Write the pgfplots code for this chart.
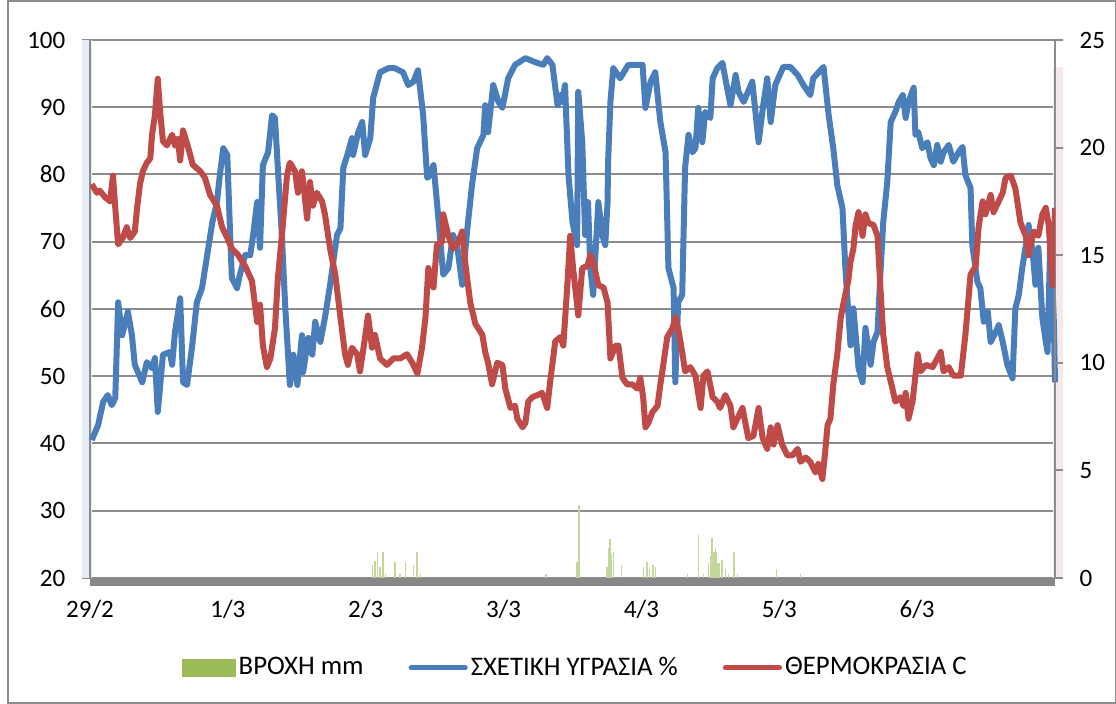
\documentclass[border=0pt]{standalone}
\usepackage{fontspec}
\setmainfont{Carlito}
\usepackage{pgfplots}
\pgfplotsset{compat=1.18}
\definecolor{hum}{HTML}{4A7EBB}
\definecolor{tmp}{HTML}{BE4B48}
\definecolor{rain}{HTML}{9BBB59}
\definecolor{gridg}{HTML}{8C8C8C}
\definecolor{axg}{HTML}{878787}
\begin{document}
\fontsize{12.5}{15}\selectfont
\begin{tikzpicture}
\path[use as bounding box] (0,0) rectangle (558pt,352pt);
\draw[gridg, line width=0.6pt] (4pt,0.5pt) rectangle (557.7pt,351.5pt);
\begin{axis}[
  at={(45pt,63pt)}, anchor=south west,
  scale only axis, width=482.5pt, height=269pt,
  xmin=0, xmax=168, ymin=20, ymax=100,
  clip=false,
  xtick={0,24,...,144}, xticklabels={29/2,1/3,2/3,3/3,4/3,5/3,6/3},
  ytick={20,30,...,100},
  ymajorgrids, major grid style={gridg, line width=1pt},
  axis x line*=bottom, axis y line*=left,
  axis line style={gridg, line width=1pt},
  x axis line style={draw=none},
  ytick style={gridg, line width=1pt},
  xtick style={draw=none},
  ytick align=outside, major tick length=4pt,
  tick label style={font=\fontsize{12.5}{15}\selectfont, /pgf/number format/assume math mode=true},
  yticklabel style={xshift=-4pt},
  xticklabel style={yshift=-6.5pt},
]
\draw[hum!15, line width=5pt, xshift=-1.5pt] (rel axis cs:0,0) -- (rel axis cs:0,1);
\draw[tmp!12, line width=5pt, xshift=1.5pt] (rel axis cs:1,0) -- (rel axis cs:1,0.95);
\draw[gridg, line width=1pt] (rel axis cs:0,0) -- (rel axis cs:0,1);
\addplot[hum, line width=3pt, line join=round] coordinates {
(0.3,40.5)(1.4,42.7)(2.3,46.2)(3.1,47.2)(3.8,45.7)(4.4,46.8)(4.9,61.0)(5.6,56.1)(6.6,59.6)(7.3,56.1)(7.8,51.7)(9.1,49.1)(9.9,52.1)(10.8,51.2)(11.3,52.7)(11.8,44.7)(12.7,53.2)(13.9,53.6)(14.3,51.7)(14.8,56.6)(15.7,61.6)(16.2,49.1)(16.9,48.7)(17.8,54.6)(18.6,61.0)(19.5,63.1)(20.4,68.0)(21.3,72.9)(22.1,75.9)(22.6,79.9)(23.2,83.9)(23.9,82.9)(24.4,71.0)(24.7,64.6)(25.6,63.1)(26.1,65.1)(27.0,68.0)(27.9,68.0)(28.4,71.0)(29.1,75.9)(29.6,69.1)(30.1,81.4)(31.0,83.3)(31.7,88.8)(32.2,88.4)(32.7,81.0)(33.4,71.0)(34.0,60.1)(34.8,48.7)(35.4,53.2)(36.1,48.7)(36.9,56.1)(37.1,50.6)(38.0,55.7)(38.7,53.2)(39.2,58.1)(40.1,55.1)(40.9,58.7)(41.8,63.6)(43.0,71.0)(43.6,72.0)(44.1,81.0)(44.8,82.9)(45.6,85.4)(45.8,82.9)(46.7,86.3)(47.4,87.8)(47.9,82.9)(48.8,85.4)(49.3,91.4)(50.5,95.2)(51.9,95.8)(53.1,95.8)(54.5,95.2)(55.4,93.3)(56.3,93.8)(57.1,95.5)(58.0,88.8)(58.7,79.5)(59.2,79.9)(59.8,81.4)(60.4,75.9)(61.5,65.1)(62.4,66.1)(63.2,71.0)(63.9,69.5)(64.8,63.6)(65.7,72.0)(66.5,78.4)(67.4,83.9)(68.5,85.9)(68.8,90.3)(69.3,86.3)(70.2,93.3)(71.1,90.8)(71.8,89.9)(72.8,94.3)(74.0,96.3)(75.8,97.3)(77.5,96.7)(78.9,96.3)(79.6,97.3)(80.5,96.3)(81.4,90.3)(81.9,91.8)(82.2,90.8)(82.7,93.3)(83.3,79.9)(84.0,72.9)(84.8,69.5)(85.0,92.3)(85.7,84.8)(86.2,71.0)(86.7,75.9)(87.1,66.1)(87.6,62.1)(88.5,75.9)(89.2,71.0)(89.7,69.5)(90.1,75.9)(90.2,81.9)(90.6,90.8)(91.1,95.8)(92.3,94.3)(93.7,96.3)(95.5,96.3)(96.2,96.3)(96.7,89.9)(97.6,93.8)(98.4,95.2)(99.3,87.8)(100.2,83.3)(100.7,66.1)(101.6,63.1)(101.9,49.1)(102.4,61.0)(103.1,62.1)(103.6,81.0)(104.2,85.9)(104.9,83.3)(105.4,83.9)(105.9,89.9)(106.6,84.8)(107.1,89.3)(108.0,88.4)(108.4,94.3)(109.2,95.8)(110.1,96.6)(110.6,94.3)(111.5,90.3)(112.4,94.8)(112.9,92.3)(113.8,90.8)(115.3,93.8)(116.4,84.8)(117.2,90.3)(117.9,94.3)(118.5,87.8)(119.3,93.3)(120.7,96.0)(121.9,96.0)(123.2,94.8)(124.2,93.3)(125.4,91.8)(125.9,94.3)(127.7,96.0)(128.6,88.8)(129.4,83.9)(130.1,78.4)(131.0,75.0)(131.5,66.1)(132.4,54.6)(132.9,60.1)(133.8,51.2)(134.5,49.1)(135.0,57.2)(135.9,51.7)(136.4,55.1)(137.1,56.6)(137.6,65.1)(138.1,72.9)(138.8,78.9)(139.4,87.8)(140.2,89.3)(140.8,90.8)(141.5,91.8)(142.0,88.4)(142.5,90.8)(143.4,92.9)(143.7,85.9)(144.2,86.3)(144.9,83.9)(145.8,84.8)(146.3,82.5)(146.9,81.4)(147.5,84.4)(148.1,81.9)(148.6,83.3)(149.5,84.4)(150.3,81.9)(151.2,83.3)(151.9,84.1)(152.4,79.9)(153.3,78.0)(153.6,69.5)(154.5,64.0)(155.0,63.1)(155.6,58.1)(156.3,59.6)(156.8,55.1)(157.7,56.6)(158.2,57.6)(158.9,55.1)(159.7,51.7)(160.6,49.7)(161.1,60.1)(161.7,62.1)(162.3,66.1)(163.2,71.0)(163.4,72.5)(164.1,68.5)(164.6,63.6)(165.1,69.1)(165.8,58.7)(166.4,55.1)(166.7,53.6)(167.2,71.0)(167.8,58.1)(168,49.1)
};
\draw[axg, line width=4pt, yshift=-2pt] (rel axis cs:0,0) -- (rel axis cs:1,0);
\end{axis}
\begin{axis}[
  at={(45pt,63pt)}, anchor=south west,
  scale only axis, width=482.5pt, height=269pt,
  xmin=0, xmax=168, ymin=0, ymax=25,
  ytick={0,5,...,25},
  axis x line=none, axis y line*=right,
  axis line style={gridg, line width=1pt},
  ytick style={gridg, line width=1pt},
  ytick align=outside, major tick length=4pt,
  tick label style={font=\fontsize{12.5}{15}\selectfont, /pgf/number format/assume math mode=true},
  yticklabel style={xshift=4pt},
  legend columns=3,
  legend style={at={(0.5036,-0.167)}, anchor=center, draw=none, fill=none,
    font=\fontsize{13.4}{16}\selectfont,
    /tikz/every even column/.append style={column sep=21pt},
    nodes={inner sep=1.5pt}},
  legend cell align=left,
]
\addplot[ycomb, rain!60, line width=0.7pt, mark=none,
  legend image code/.code={\fill[rain] (0pt,-4pt) rectangle (26pt,4pt);}] coordinates {
(49.2,0.6)(49.6,0.8)(50.1,1.2)(50.5,0.5)(51.0,1.2)(51.4,0.2)(53.1,0.75)(54.0,0.2)(54.9,0.75)(56.3,0.6)(56.9,1.2)(57.5,0.2)
(79.4,0.2)(84.8,0.75)(85.1,3.4)(90.0,0.5)(90.3,1.4)(90.5,1.8)(90.7,1.1)(91.1,1.2)(92.5,0.6)(96.4,0.5)(97.0,0.75)(97.4,0.4)(98.0,0.6)(98.4,0.5)
(104.0,0.2)(105.9,2.0)(106.8,0.2)(107.7,0.7)(108.0,1.0)(108.3,1.85)(108.6,1.2)(108.9,1.4)(109.1,1.2)(109.3,0.7)(109.6,0.7)(110.0,0.85)(110.6,0.4)(111.2,0.2)(112.1,1.2)(112.7,0.2)(119.5,0.4)(123.7,0.2)
};
\addlegendentry{ΒΡΟΧΗ mm}
\addlegendimage{legend image code/.code={\draw[hum, line width=2.6pt, line cap=round] (0pt,0pt) -- (27pt,0pt);}}
\addlegendentry{ΣΧΕΤΙΚΗ ΥΓΡΑΣΙΑ \%}
\addplot[tmp, line width=3pt, line join=round,
  legend image code/.code={\draw[tmp, line width=2.6pt, line cap=round] (0pt,0pt) -- (27pt,0pt);}] coordinates {
(0.3,18.3)(1.2,17.9)(1.7,18.0)(2.6,17.7)(3.5,17.5)(4.0,18.7)(4.4,17.2)(4.9,15.5)(5.7,15.8)(6.4,16.3)(7.0,15.8)(7.8,16.1)(8.2,17.2)(8.7,18.3)(9.2,18.9)(9.9,19.3)(10.5,19.5)(10.8,20.6)(11.3,21.5)(11.8,23.2)(12.2,21.7)(12.7,20.3)(13.4,20.1)(14.3,20.6)(14.8,20.1)(15.3,20.4)(15.7,19.4)(16.2,20.8)(17.1,20.0)(17.9,19.2)(19.2,18.9)(20.0,18.6)(20.9,17.8)(22.1,17.3)(23.0,16.3)(23.9,15.8)(24.7,15.3)(25.8,15.0)(27.0,14.5)(28.2,13.8)(29.1,11.9)(29.6,12.7)(30.1,10.8)(30.8,9.8)(31.4,10.2)(32.2,11.6)(32.7,13.9)(33.4,15.9)(34.3,18.7)(34.8,19.3)(35.7,18.9)(36.2,17.9)(36.9,18.9)(37.8,16.7)(38.3,18.4)(38.8,17.3)(39.5,17.9)(40.4,17.5)(40.9,16.9)(41.8,15.3)(42.7,14.1)(43.6,12.1)(44.4,10.4)(44.9,9.9)(45.6,10.7)(46.5,10.4)(47.0,9.6)(47.9,11.2)(48.4,12.2)(49.1,10.7)(49.6,11.3)(50.5,10.2)(51.7,9.9)(52.8,10.2)(54.0,10.2)(55.2,10.4)(56.1,10.0)(57.0,9.5)(57.8,10.7)(58.4,12.1)(58.9,14.4)(59.8,13.5)(60.4,15.5)(61.3,15.6)(61.5,16.9)(62.4,15.9)(63.2,15.3)(64.1,15.6)(64.8,16.1)(65.3,14.7)(66.2,12.8)(67.1,11.8)(67.6,11.6)(68.3,11.3)(68.8,10.5)(69.3,10.0)(70.0,9.0)(70.9,10.0)(71.8,9.9)(72.3,8.8)(73.2,7.9)(74.0,8.0)(74.4,7.4)(75.3,7.0)(75.8,7.2)(76.3,8.2)(77.0,8.4)(77.9,8.5)(78.7,8.6)(79.6,7.9)(80.1,9.1)(81.0,11.0)(81.9,11.2)(82.4,10.8)(83.1,13.6)(83.6,15.9)(84.1,14.4)(85.0,12.2)(85.7,14.4)(86.6,14.5)(87.1,15.0)(87.6,14.7)(88.5,13.6)(89.4,13.5)(90.1,12.8)(90.6,10.2)(91.5,10.8)(92.0,10.8)(92.7,9.3)(93.5,9.0)(94.4,9.0)(95.3,8.8)(95.8,9.3)(96.3,8.4)(96.7,7.0)(97.2,7.2)(97.9,7.7)(98.8,8.0)(99.3,9.0)(99.8,9.9)(100.5,11.2)(101.4,11.6)(101.9,12.1)(102.4,11.6)(103.1,10.5)(103.6,9.6)(104.5,9.8)(105.4,9.4)(106.3,7.9)(106.8,9.4)(107.5,9.6)(108.4,8.4)(109.2,8.2)(109.7,7.9)(110.6,8.5)(111.5,8.0)(112.0,7.0)(112.7,7.4)(113.6,7.9)(114.6,6.5)(115.5,6.6)(116.4,7.9)(117.1,6.5)(117.9,6.0)(118.5,7.0)(119.0,6.2)(119.7,7.1)(120.5,6.2)(121.4,5.7)(122.3,5.7)(123.2,6.0)(123.7,5.4)(124.6,5.6)(125.4,5.4)(126.3,4.9)(126.8,5.3)(127.5,4.6)(128.0,5.9)(128.4,7.1)(128.9,7.4)(129.4,9.0)(130.1,10.4)(130.7,12.1)(131.2,12.8)(132.0,13.8)(132.4,14.7)(132.9,15.3)(133.3,16.4)(133.8,17.0)(134.5,15.9)(135.0,16.9)(135.5,16.5)(136.4,16.4)(137.1,15.9)(137.6,13.5)(138.1,11.3)(138.8,9.8)(139.7,8.8)(140.2,8.2)(141.1,8.4)(141.6,8.0)(142.0,8.6)(142.5,7.4)(143.2,8.2)(143.7,9.4)(144.1,10.4)(144.6,9.6)(145.5,9.9)(146.7,9.8)(147.5,10.2)(148.1,10.5)(148.6,9.6)(149.5,9.8)(150.3,9.4)(151.6,9.4)(152.4,11.3)(153.3,14.1)(154.2,14.5)(154.7,16.3)(155.4,17.5)(155.9,16.9)(156.8,17.8)(157.3,17.0)(158.2,17.5)(158.9,17.9)(159.4,18.6)(160.3,18.7)(161.1,18.1)(162.0,16.5)(162.9,15.9)(163.4,15.0)(164.3,16.1)(165.1,15.9)(165.8,16.9)(166.4,17.2)(166.9,16.4)(167.6,13.6)(168,17.2)
};
\addlegendentry{ΘΕΡΜΟΚΡΑΣΙΑ C}
\end{axis}
\end{tikzpicture}
\end{document}
